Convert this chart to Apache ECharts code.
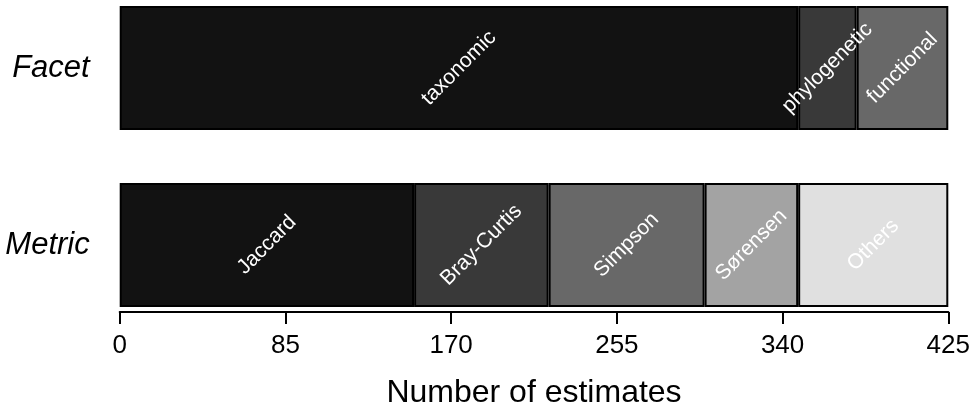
<!DOCTYPE html>
<html>
<head>
<meta charset="utf-8">
<script src="https://cdn.jsdelivr.net/npm/echarts@6/dist/echarts.min.js"></script>
<style>
html,body{margin:0;padding:0;background:#fff;}
#chart{width:978px;height:410px;}
</style>
</head>
<body>
<div id="chart"></div>
<script>
const categories = ['Facet', 'Metric'];
const facetNames = ['taxonomic', 'phylogenetic', 'functional'];
const facetValues = [348, 30, 47];
const metricNames = ['Jaccard', 'Bray-Curtis', 'Simpson', 'Sørensen', 'Others'];
const metricValues = [151, 69, 80, 48, 77];
const xTicks = [0, 85, 170, 255, 340, 425];
const xTitle = 'Number of estimates';

const facetColors = ['#121212', '#393939', '#686868'];
const metricColors = ['#121212', '#393939', '#686868', '#a3a3a3', '#e0e0e0'];
const FONT = 'Liberation Sans, Arial, sans-serif';

function makeSeries(names, values, colors, rowIndex) {
  return names.map((n, i) => {
    const data = categories.map((c, r) => (r === rowIndex ? values[i] : '-'));
    return {
      name: n,
      type: 'bar',
      stack: 'total',
      barWidth: 124,
      data: data,
      itemStyle: { color: colors[i], borderColor: '#000', borderWidth: 2 },
      label: {
        show: true,
        position: 'inside',
        rotate: 45,
        formatter: n,
        color: '#fff',
        fontSize: 21,
        fontFamily: FONT
      },
      emphasis: { disabled: true }
    };
  });
}

const chart = echarts.init(document.getElementById('chart'));
chart.setOption({
  animation: false,
  backgroundColor: '#fff',
  grid: { left: 119.7, right: 29.7, top: 68, bottom: 163, containLabel: false },
  xAxis: {
    type: 'value',
    min: xTicks[0],
    max: xTicks[xTicks.length - 1],
    interval: xTicks[1] - xTicks[0],
    offset: 67,
    splitLine: { show: false },
    axisLine: { show: true, lineStyle: { color: '#000', width: 2 } },
    axisTick: { show: true, length: 12, lineStyle: { color: '#000', width: 2 } },
    axisLabel: { color: '#000', fontSize: 26, fontFamily: FONT, margin: 21 },
    name: xTitle,
    nameLocation: 'middle',
    nameGap: 65,
    nameTextStyle: { color: '#000', fontSize: 32, fontFamily: FONT }
  },
  yAxis: {
    type: 'category',
    data: categories,
    inverse: true,
    boundaryGap: false,
    axisLine: { show: false },
    axisTick: { show: false },
    splitLine: { show: false },
    axisLabel: { color: '#000', fontSize: 31, fontStyle: 'italic', fontFamily: FONT, margin: 30 }
  },
  series: [
    ...makeSeries(facetNames, facetValues, facetColors, 0),
    ...makeSeries(metricNames, metricValues, metricColors, 1)
  ]
});
</script>
</body>
</html>
